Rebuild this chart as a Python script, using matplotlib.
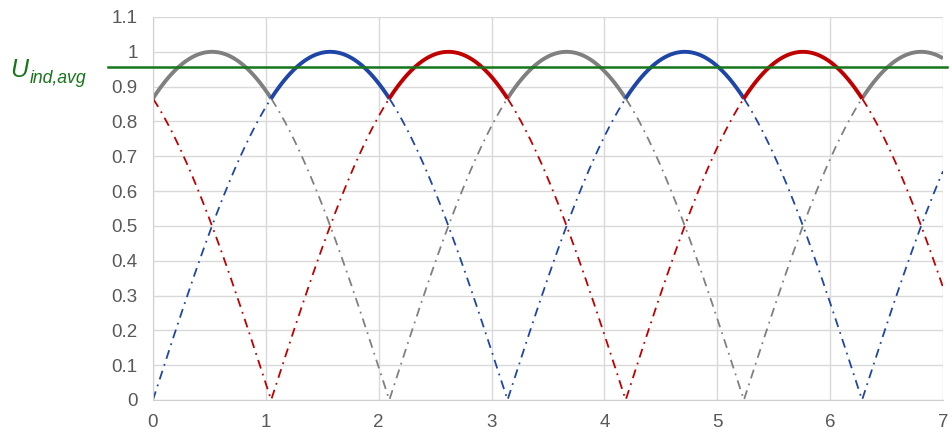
import numpy as np
import matplotlib
matplotlib.use("Agg")
import matplotlib.pyplot as plt

# three rectified phases |sin(x + phase)|, sampled over 0..7
phase_names = ["grey", "blue", "red"]
phase_offsets = [np.pi / 3, 0.0, -np.pi / 3]
phase_colors = ["#808080", "#1f46a6", "#c00000"]
u_avg = 0.955
x_ticks = [0, 1, 2, 3, 4, 5, 6, 7]
y_ticks = [0, 0.1, 0.2, 0.3, 0.4, 0.5, 0.6, 0.7, 0.8, 0.9, 1.0, 1.1]
y_labels = ["0", "0.1", "0.2", "0.3", "0.4", "0.5", "0.6", "0.7", "0.8", "0.9", "1", "1.1"]

plt.rcParams["font.family"] = ["Liberation Sans", "DejaVu Sans"]

x = np.linspace(0, 7, 3501)
curves = [np.abs(np.sin(x + p)) for p in phase_offsets]
env = np.max(curves, axis=0)

fig = plt.figure(figsize=(9.5, 4.3), dpi=100)
ax = fig.add_axes([0.161, 0.0698, 0.8316, 0.8907])

for y, col in zip(curves, phase_colors):
    on_top = y >= env - 1e-9
    # widen the mask by one sample so solid pieces meet at the crossings
    on_top = on_top | np.roll(on_top, 1) | np.roll(on_top, -1)
    ax.plot(x, np.ma.masked_where(on_top, y), color=col, lw=1.3,
            linestyle=(0, (5, 3, 1, 3)))
    ax.plot(x, np.ma.masked_where(~on_top, y), color=col, lw=2.8,
            solid_capstyle="butt")

green = "#17751a"
ax.plot([-0.4, 7.04], [u_avg, u_avg], color=green, lw=1.8, clip_on=False, zorder=5)
# label U_ind,avg placed in figure pixels
fig.text(10 / 950, 1 - 77 / 430, "U", color=green, fontsize=18, style="italic",
         ha="left", va="baseline")
fig.text(30 / 950, 1 - 83 / 430, "ind,avg", color=green, fontsize=12.7, style="italic",
         ha="left", va="baseline")

ax.set_xlim(0, 7)
ax.set_ylim(0, 1.1)
ax.set_xticks(x_ticks)
ax.set_yticks(y_ticks)
ax.set_yticklabels(y_labels)
ax.tick_params(length=0, labelsize=13.5, labelcolor="#595959")
ax.tick_params(axis="y", pad=11)
ax.tick_params(axis="x", pad=10)
ax.grid(True, color="#d9d9d9", lw=1)
ax.set_axisbelow(True)
for s in ["top", "right"]:
    ax.spines[s].set_visible(False)
for s in ["left", "bottom"]:
    ax.spines[s].set_color("#d0d0d0")

fig.savefig("out.png", dpi=100)
